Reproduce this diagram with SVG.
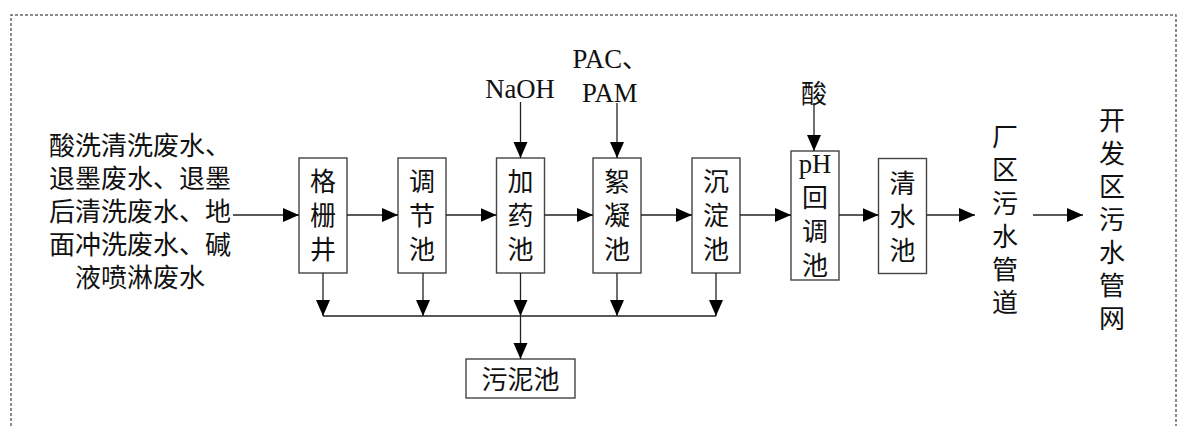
<svg xmlns="http://www.w3.org/2000/svg" width="1179" height="426" viewBox="0 0 1179 426">
  <style>
    .box { fill: #fff; stroke: #444; stroke-width: 1.4; }
    .cn { font-family: "Liberation Serif", "Noto Sans CJK SC", serif; font-size: 26px; fill: #111; text-anchor: middle; dominant-baseline: central; }
    .lat { font-family: "Liberation Serif", "Noto Sans CJK SC", serif; font-size: 26.7px; fill: #111; }
    .flow { fill: none; stroke: #222; stroke-width: 1.3; }
    .frame { fill: none; stroke: #666; stroke-width: 1.5; stroke-dasharray: 3 2; }
  </style>
  <defs>
    <marker id="arrow" markerUnits="userSpaceOnUse" markerWidth="17" markerHeight="15" refX="16" refY="7" orient="auto">
      <path d="M0,0 L16,7 L0,14 z" fill="#000"/>
    </marker>
  </defs>

  <rect width="1179" height="426" fill="#fff"/>

  <!-- outer frame (open at the bottom) -->
  <g id="frame">
    <path class="frame" d="M11,426 V15 H1176 V426"/>
  </g>

  <!-- inflow description -->
  <g id="source">
    <text class="cn" x="140" y="146">酸洗清洗废水、</text>
    <text class="cn" x="140" y="179">退墨废水、退墨</text>
    <text class="cn" x="140" y="212">后清洗废水、地</text>
    <text class="cn" x="140" y="245">面冲洗废水、碱</text>
    <text class="cn" x="140" y="278">液喷淋废水</text>
  </g>

  <g id="grille">
    <rect class="box" x="299" y="158" width="48" height="115"/>
    <text class="cn" x="323" y="182">格</text>
    <text class="cn" x="323" y="216">栅</text>
    <text class="cn" x="323" y="250">井</text>
  </g>

  <g id="equalization">
    <rect class="box" x="398" y="158" width="48" height="115"/>
    <text class="cn" x="422" y="182">调</text>
    <text class="cn" x="422" y="216">节</text>
    <text class="cn" x="422" y="250">池</text>
  </g>

  <g id="dosing">
    <rect class="box" x="496.5" y="158" width="48" height="115"/>
    <text class="cn" x="520.5" y="182">加</text>
    <text class="cn" x="520.5" y="216">药</text>
    <text class="cn" x="520.5" y="250">池</text>
  </g>

  <g id="flocculation">
    <rect class="box" x="593" y="158" width="48" height="115"/>
    <text class="cn" x="617" y="182">絮</text>
    <text class="cn" x="617" y="216">凝</text>
    <text class="cn" x="617" y="250">池</text>
  </g>

  <g id="sedimentation">
    <rect class="box" x="692" y="158" width="48" height="115"/>
    <text class="cn" x="716" y="182">沉</text>
    <text class="cn" x="716" y="216">淀</text>
    <text class="cn" x="716" y="250">池</text>
  </g>

  <g id="ph-adjust">
    <rect class="box" x="791" y="151" width="48" height="129"/>
    <text class="lat" x="815" y="173" text-anchor="middle">pH</text>
    <text class="cn" x="815" y="198">回</text>
    <text class="cn" x="815" y="232">调</text>
    <text class="cn" x="815" y="266">池</text>
  </g>

  <g id="clear-water">
    <rect class="box" x="878.5" y="158.5" width="48" height="115"/>
    <text class="cn" x="902.5" y="184">清</text>
    <text class="cn" x="902.5" y="217">水</text>
    <text class="cn" x="902.5" y="251">池</text>
  </g>

  <g id="sludge">
    <rect class="box" x="466" y="359" width="109" height="39"/>
    <text class="cn" x="520.5" y="380">污泥池</text>
  </g>

  <g id="plant-sewer">
    <text class="cn" x="1005" y="137">厂</text>
    <text class="cn" x="1005" y="170">区</text>
    <text class="cn" x="1005" y="204">污</text>
    <text class="cn" x="1005" y="237">水</text>
    <text class="cn" x="1005" y="270">管</text>
    <text class="cn" x="1005" y="303">道</text>
  </g>

  <g id="zone-sewer">
    <text class="cn" x="1112" y="121">开</text>
    <text class="cn" x="1112" y="154">发</text>
    <text class="cn" x="1112" y="187">区</text>
    <text class="cn" x="1112" y="220">污</text>
    <text class="cn" x="1112" y="253">水</text>
    <text class="cn" x="1112" y="286">管</text>
    <text class="cn" x="1112" y="319">网</text>
  </g>

  <!-- chemical feeds -->
  <g id="naoh">
    <text class="lat" x="520" y="98" text-anchor="middle">NaOH</text>
  </g>
  <g id="pac-pam">
    <text class="lat" x="572.5" y="68">PAC<tspan font-size="26">、</tspan></text>
    <text class="lat" x="582" y="101.5">PAM</text>
  </g>
  <g id="acid">
    <text class="cn" x="814" y="94">酸</text>
  </g>

  <g id="connectors">
    <!-- main treatment line -->
    <line class="flow" x1="233" y1="215" x2="299" y2="215" marker-end="url(#arrow)"/>
    <line class="flow" x1="347" y1="215" x2="398" y2="215" marker-end="url(#arrow)"/>
    <line class="flow" x1="446" y1="215" x2="496.5" y2="215" marker-end="url(#arrow)"/>
    <line class="flow" x1="544.5" y1="215" x2="593" y2="215" marker-end="url(#arrow)"/>
    <line class="flow" x1="641" y1="215" x2="692" y2="215" marker-end="url(#arrow)"/>
    <line class="flow" x1="740" y1="215" x2="791" y2="215" marker-end="url(#arrow)"/>
    <line class="flow" x1="839" y1="215" x2="878.5" y2="215" marker-end="url(#arrow)"/>
    <line class="flow" x1="926.5" y1="215" x2="975" y2="215" marker-end="url(#arrow)"/>
    <line class="flow" x1="1033" y1="215" x2="1083" y2="215" marker-end="url(#arrow)"/>

    <!-- dosing feeds -->
    <line class="flow" x1="520.5" y1="102" x2="520.5" y2="158" marker-end="url(#arrow)"/>
    <line class="flow" x1="617" y1="103" x2="617" y2="158" marker-end="url(#arrow)"/>
    <line class="flow" x1="814" y1="103" x2="814" y2="151" marker-end="url(#arrow)"/>

    <!-- sludge collection -->
    <line class="flow" x1="323" y1="273" x2="323" y2="316" marker-end="url(#arrow)"/>
    <line class="flow" x1="423" y1="273" x2="423" y2="316" marker-end="url(#arrow)"/>
    <line class="flow" x1="520.5" y1="273" x2="520.5" y2="316" marker-end="url(#arrow)"/>
    <line class="flow" x1="617" y1="273" x2="617" y2="316" marker-end="url(#arrow)"/>
    <line class="flow" x1="716" y1="273" x2="716" y2="316" marker-end="url(#arrow)"/>
    <line class="flow" x1="323" y1="316" x2="716" y2="316"/>
    <line class="flow" x1="520.5" y1="316" x2="520.5" y2="359" marker-end="url(#arrow)"/>
  </g>
</svg>
